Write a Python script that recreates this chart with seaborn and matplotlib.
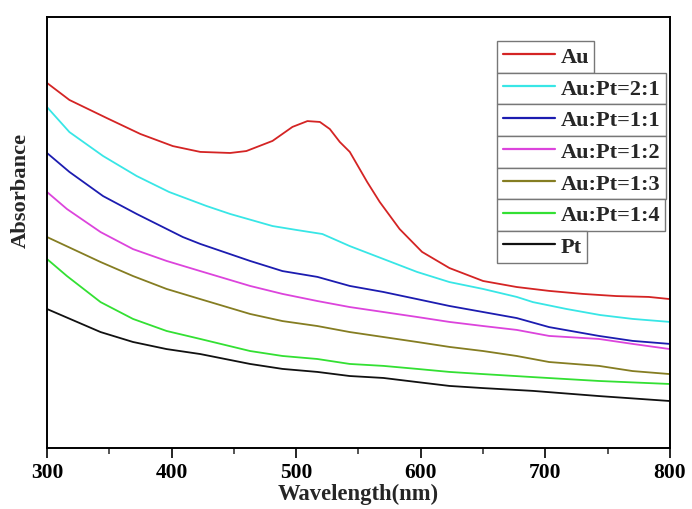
import numpy as np
import pandas as pd
import seaborn as sns
import matplotlib
matplotlib.use("Agg")
import matplotlib.pyplot as plt
from matplotlib.ticker import MultipleLocator
from matplotlib.lines import Line2D
from matplotlib.legend import Legend

labels = ["Au", "Au:Pt=2:1", "Au:Pt=1:1", "Au:Pt=1:2", "Au:Pt=1:3", "Au:Pt=1:4", "Pt"]
colors = ["#d42424", "#38e6e6", "#1c1cb0", "#dc44dc", "#857d22", "#33e033", "#111111"]

wl_au = [300, 318, 348, 375, 401, 423, 447, 460, 481, 497, 509, 519, 527, 535, 543,
         557, 567, 583, 601, 623, 650, 677, 703, 730, 757, 783, 800]
ab_au = [1.694, 1.615, 1.531, 1.457, 1.401, 1.374, 1.369, 1.378, 1.425, 1.490, 1.517,
         1.513, 1.480, 1.420, 1.374, 1.234, 1.142, 1.016, 0.910, 0.835, 0.775, 0.747,
         0.729, 0.715, 0.705, 0.701, 0.691]

wl_21 = [300, 318, 345, 372, 398, 428, 447, 481, 500, 521, 543, 570, 597, 623, 650,
         677, 690, 717, 744, 770, 800]
ab_21 = [1.582, 1.466, 1.355, 1.262, 1.188, 1.123, 1.086, 1.030, 1.012, 0.993, 0.937,
         0.877, 0.817, 0.770, 0.738, 0.701, 0.677, 0.645, 0.617, 0.599, 0.585]

wl_11 = [300, 318, 345, 372, 409, 423, 463, 489, 517, 543, 570, 597, 623, 650, 677,
         703, 743, 770, 800]
ab_11 = [1.369, 1.281, 1.169, 1.086, 0.979, 0.947, 0.868, 0.821, 0.794, 0.752, 0.724,
         0.691, 0.659, 0.631, 0.603, 0.561, 0.520, 0.497, 0.483]

wl_12 = [300, 316, 343, 369, 396, 423, 463, 489, 517, 543, 570, 597, 623, 650, 677,
         703, 743, 770, 800]
ab_12 = [1.188, 1.109, 1.002, 0.923, 0.868, 0.821, 0.752, 0.715, 0.682, 0.654, 0.631,
         0.608, 0.585, 0.566, 0.548, 0.520, 0.506, 0.483, 0.459]

wl_13 = [300, 343, 369, 396, 423, 463, 489, 517, 543, 570, 597, 623, 650, 677, 703,
         743, 770, 800]
ab_13 = [0.979, 0.863, 0.798, 0.738, 0.691, 0.622, 0.589, 0.566, 0.538, 0.515, 0.492,
         0.469, 0.450, 0.427, 0.399, 0.381, 0.357, 0.343]

wl_14 = [300, 316, 343, 369, 396, 423, 463, 489, 517, 543, 570, 597, 623, 650, 690,
         743, 800]
ab_14 = [0.877, 0.798, 0.677, 0.599, 0.543, 0.506, 0.450, 0.427, 0.413, 0.390, 0.381,
         0.367, 0.353, 0.343, 0.329, 0.311, 0.297]

wl_pt = [300, 343, 369, 396, 423, 463, 489, 517, 543, 570, 597, 623, 650, 690, 743, 800]
ab_pt = [0.645, 0.538, 0.492, 0.459, 0.436, 0.390, 0.367, 0.353, 0.334, 0.325, 0.306,
         0.288, 0.278, 0.265, 0.241, 0.218]

series_wl = [wl_au, wl_21, wl_11, wl_12, wl_13, wl_14, wl_pt]
series_ab = [ab_au, ab_21, ab_11, ab_12, ab_13, ab_14, ab_pt]

frames = []
for lab, w, a in zip(labels, series_wl, series_ab):
    frames.append(pd.DataFrame({"Wavelength": w, "Absorbance": a, "Sample": lab}))
df = pd.concat(frames, ignore_index=True)
palette = dict(zip(labels, colors))

sns.set_style("ticks")
plt.rcParams["font.family"] = ["Liberation Serif", "DejaVu Serif"]
plt.rcParams["font.weight"] = "bold"

fig = plt.figure(figsize=(6.92, 5.10), dpi=100)
ax = fig.add_axes([47 / 692, 61 / 510, 623 / 692, 431 / 510])

sns.lineplot(data=df, x="Wavelength", y="Absorbance", hue="Sample", hue_order=labels,
             palette=palette, sort=False, estimator=None, linewidth=1.3,
             legend=False, ax=ax)

ax.set_xlim(300, 800)
ax.set_ylim(0, 2.0)
ax.set_yticks([])
ax.xaxis.set_major_locator(MultipleLocator(100))
ax.xaxis.set_minor_locator(MultipleLocator(50))
ax.tick_params(axis="x", which="major", direction="out", length=7, width=1.2,
               labelsize=15.5, pad=3, colors="black")
ax.tick_params(axis="x", which="minor", direction="out", length=4, width=1.1)
for lbl in ax.get_xticklabels():
    lbl.set_fontweight("bold")
for s in ax.spines.values():
    s.set_visible(True)
    s.set_linewidth(1.4)
    s.set_color("black")

ax.set_xlabel("Wavelength(nm)", fontsize=16.3, fontweight="bold", labelpad=1)
ax.set_ylabel("Absorbance", fontsize=16.2, fontweight="bold")
ax.yaxis.set_label_coords(-0.026, 0.60)

fig.canvas.draw()
renderer = fig.canvas.get_renderer()
top = 42.0
for lab, col in zip(labels, colors):
    h = Line2D([], [], color=col, lw=1.6)
    leg = Legend(ax, [h], [lab], loc="upper left",
                 bbox_to_anchor=(497 / 692, 1 - top / 510), bbox_transform=fig.transFigure,
                 frameon=True, fancybox=False, shadow=False, borderpad=0.25,
                 handlelength=2.34, handletextpad=0.26, borderaxespad=0,
                 prop=dict(family="Liberation Serif", weight="bold", size=16))
    fr = leg.get_frame()
    fr.set_edgecolor("#777777")
    fr.set_linewidth(1.0)
    fr.set_facecolor("white")
    fr.set_alpha(1.0)
    ax.add_artist(leg)
    bb = leg.get_window_extent(renderer)
    top += bb.height

fig.savefig("out.png", dpi=100)
